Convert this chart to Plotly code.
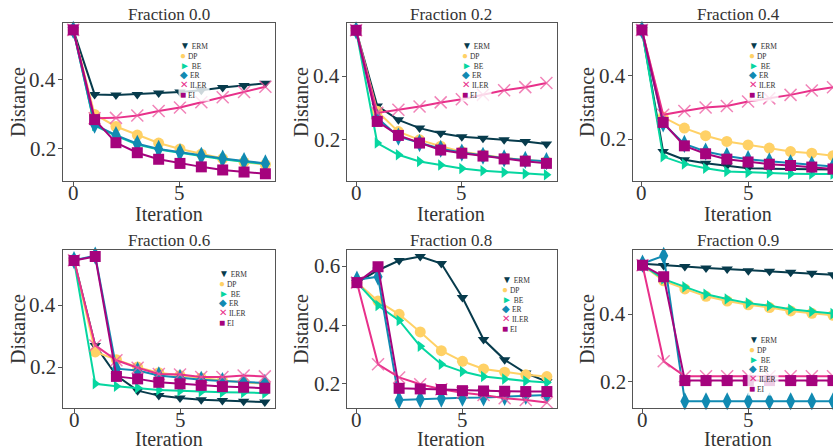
import plotly.graph_objects as go

W, H = 833, 448
FONT = "Liberation Serif"

iterations = list(range(10))
fractions = ["0.0", "0.2", "0.4", "0.6", "0.8", "0.9"]
methods = ["ERM", "DP", "BE", "ER", "ILER", "EI"]
x_ticks = [0, 5]

# values per fraction (rows: 0.0, 0.2, 0.4, 0.6, 0.8, 0.9)
ERM = [
    [0.545, 0.358, 0.356, 0.358, 0.362, 0.365, 0.370, 0.378, 0.384, 0.390],
    [0.545, 0.307, 0.263, 0.237, 0.221, 0.210, 0.205, 0.200, 0.195, 0.187],
    [0.545, 0.161, 0.135, 0.124, 0.116, 0.108, 0.107, 0.106, 0.105, 0.104],
    [0.545, 0.270, 0.173, 0.124, 0.108, 0.100, 0.095, 0.092, 0.090, 0.087],
    [0.545, 0.587, 0.620, 0.634, 0.610, 0.494, 0.351, 0.282, 0.237, 0.208],
    [0.549, 0.544, 0.541, 0.537, 0.534, 0.529, 0.527, 0.524, 0.521, 0.517],
]
DP = [
    [0.545, 0.300, 0.265, 0.240, 0.217, 0.200, 0.185, 0.172, 0.162, 0.155],
    [0.545, 0.290, 0.226, 0.200, 0.180, 0.163, 0.153, 0.143, 0.137, 0.132],
    [0.545, 0.270, 0.235, 0.211, 0.193, 0.182, 0.172, 0.161, 0.156, 0.148],
    [0.545, 0.249, 0.224, 0.200, 0.182, 0.173, 0.165, 0.157, 0.151, 0.146],
    [0.545, 0.482, 0.437, 0.377, 0.313, 0.277, 0.251, 0.240, 0.231, 0.225],
    [0.545, 0.499, 0.475, 0.453, 0.439, 0.428, 0.420, 0.410, 0.403, 0.397],
]
BE = [
    [0.545, 0.268, 0.238, 0.213, 0.198, 0.188, 0.178, 0.170, 0.163, 0.156],
    [0.545, 0.190, 0.153, 0.132, 0.121, 0.110, 0.103, 0.098, 0.093, 0.090],
    [0.545, 0.145, 0.122, 0.108, 0.098, 0.095, 0.093, 0.091, 0.090, 0.090],
    [0.545, 0.146, 0.138, 0.133, 0.126, 0.124, 0.121, 0.119, 0.118, 0.116],
    [0.545, 0.467, 0.416, 0.328, 0.267, 0.242, 0.225, 0.217, 0.210, 0.205],
    [0.545, 0.504, 0.481, 0.459, 0.445, 0.433, 0.425, 0.415, 0.408, 0.402],
]
ER = [
    [0.545, 0.270, 0.240, 0.215, 0.200, 0.190, 0.180, 0.172, 0.165, 0.158],
    [0.545, 0.270, 0.210, 0.190, 0.172, 0.160, 0.150, 0.142, 0.137, 0.133],
    [0.545, 0.250, 0.185, 0.161, 0.147, 0.137, 0.130, 0.124, 0.119, 0.114],
    [0.545, 0.560, 0.195, 0.189, 0.173, 0.165, 0.159, 0.155, 0.151, 0.149],
    [0.555, 0.565, 0.145, 0.148, 0.150, 0.153, 0.154, 0.156, 0.159, 0.162],
    [0.550, 0.573, 0.143, 0.143, 0.143, 0.143, 0.143, 0.143, 0.143, 0.143],
]
ILER = [
    [0.545, 0.289, 0.290, 0.297, 0.310, 0.320, 0.335, 0.350, 0.365, 0.380],
    [0.545, 0.285, 0.295, 0.305, 0.318, 0.328, 0.342, 0.356, 0.366, 0.379],
    [0.545, 0.277, 0.289, 0.300, 0.305, 0.319, 0.329, 0.340, 0.354, 0.364],
    [0.545, 0.270, 0.222, 0.198, 0.178, 0.176, 0.168, 0.168, 0.173, 0.170],
    [0.545, 0.267, 0.222, 0.199, 0.182, 0.170, 0.162, 0.151, 0.145, 0.137],
    [0.545, 0.261, 0.217, 0.217, 0.217, 0.217, 0.217, 0.217, 0.217, 0.217],
]
EI = [
    [0.545, 0.285, 0.218, 0.189, 0.170, 0.158, 0.148, 0.139, 0.133, 0.128],
    [0.545, 0.258, 0.214, 0.190, 0.168, 0.158, 0.149, 0.140, 0.133, 0.126],
    [0.545, 0.253, 0.179, 0.154, 0.137, 0.128, 0.121, 0.117, 0.112, 0.106],
    [0.544, 0.557, 0.170, 0.162, 0.151, 0.146, 0.141, 0.137, 0.135, 0.132],
    [0.545, 0.599, 0.185, 0.183, 0.181, 0.177, 0.176, 0.175, 0.174, 0.174],
    [0.545, 0.511, 0.204, 0.204, 0.204, 0.204, 0.204, 0.204, 0.204, 0.204],
]
values = {"ERM": ERM, "DP": DP, "BE": BE, "ER": ER, "ILER": ILER, "EI": EI}

colors = {"ERM": "#073b4c", "DP": "#ffd166", "BE": "#06d6a0",
          "ER": "#118ab2", "ILER": "#e8308a", "EI": "#a5037d"}
symbols = {"ERM": "triangle-down", "DP": "circle", "BE": "triangle-right",
           "ER": "diamond-tall", "ILER": "x-thin", "EI": "square"}
sizes = {"ERM": 10, "DP": 11, "BE": 10, "ER": 13, "ILER": 12, "EI": 11}
glyphs = {"ERM": "▼", "DP": "●", "BE": "►", "ER": "◆", "ILER": "✕", "EI": "■"}

# layout in pixels
xdom_px = [(63, 275), (347, 557), (633, 833)]
ydom_px = [(23, 181), (250, 408)]
xranges = [[-0.48, 9.45], [-0.43, 9.5], [-0.42, 9.0],
           [-0.52, 9.48], [-0.47, 9.48], [-0.45, 9.0]]
yranges = [[0.107, 0.565], [0.0705, 0.568], [0.068, 0.567],
           [0.068, 0.578], [0.118, 0.656], [0.123, 0.59]]
yticks = [[0.2, 0.4], [0.2, 0.4], [0.2, 0.4], [0.2, 0.4], [0.2, 0.4, 0.6], [0.2, 0.4]]
title_cx = [169, 451, 738]
ylab_cx = [18, 301, 587]
legend_pos = [(178, 38), (460, 38), (747, 38), (217, 266), (500, 272), (747, 332)]
TXT = "#333"

fig = go.Figure()
layout = {}
annotations = []


def txt(text, x, y, xref="paper", yref="paper", size=20, xanchor="center",
        yanchor="middle", angle=0):
    return dict(text=text, x=x, y=y, xref=xref, yref=yref, xanchor=xanchor,
                yanchor=yanchor, textangle=angle, showarrow=False,
                font=dict(family=FONT, size=size, color=TXT))


for k in range(6):
    r, c = divmod(k, 3)
    sfx = "" if k == 0 else str(k + 1)
    xa, ya = "x" + sfx, "y" + sfx
    for m in methods:
        fig.add_trace(go.Scatter(
            x=iterations, y=values[m][k], xaxis=xa, yaxis=ya, mode="lines+markers",
            line=dict(color=colors[m], width=2),
            marker=dict(symbol=symbols[m], size=sizes[m], color=colors[m],
                        line=dict(color=colors[m] if m != "ILER" else "rgba(236,90,160,0.75)",
                                  width=1.5 if m == "ILER" else 0)),
            showlegend=False, cliponaxis=False, name=m))
    x0, x1 = xdom_px[c]
    y0, y1 = ydom_px[r]
    last_col = (c == 2)
    layout["xaxis" + sfx] = dict(
        domain=[x0 / W, x1 / W], range=xranges[k], anchor=ya,
        tickvals=x_ticks, showticklabels=False, ticks="outside", ticklen=4,
        tickcolor="#555", showline=True, linecolor="#555", linewidth=1,
        mirror=True, showgrid=False, zeroline=False)
    layout["yaxis" + sfx] = dict(
        domain=[1 - y1 / H, 1 - y0 / H], range=yranges[k], anchor=xa,
        tickvals=yticks[k], showticklabels=False,
        ticks="outside", ticklen=4, tickcolor="#555",
        showline=True, linecolor="#555", linewidth=1,
        mirror=(not last_col), showgrid=False, zeroline=False)
    # tick labels
    for v in x_ticks:
        annotations.append(txt(str(v), v, 1 - (y1 + 12) / H, xref=xa, size=21))
    for v in yticks[k]:
        annotations.append(txt(f"{v:.1f}", (x0 - 5) / W, v, yref=ya, size=21,
                               xanchor="right"))
    # subplot title
    ty = 14 if r == 0 else 240
    annotations.append(txt(f"Fraction {fractions[k]}", title_cx[c] / W, 1 - ty / H, size=17))
    # axis titles
    iy = 214 if r == 0 else 439
    annotations.append(txt("Iteration", title_cx[c] / W, 1 - iy / H, size=20))
    dy = 102 if r == 0 else 329
    annotations.append(txt("Distance", ylab_cx[c] / W, 1 - dy / H, size=20, angle=-90))
    # legend
    lx, ly = legend_pos[k]
    lines = [f'<span style="color:{colors[m]};font-size:10px">{glyphs[m]}</span> {m}'
             for m in methods]
    annotations.append(dict(
        text="<br>".join(lines), x=lx / W, y=1 - ly / H, align="left",
        xref="paper", yref="paper", xanchor="left", yanchor="top",
        showarrow=False, bgcolor="rgba(255,255,255,0.8)", borderpad=1,
        font=dict(family=FONT, size=7.5, color="#333")))

fig.update_layout(**layout)
fig.update_layout(
    width=W, height=H, margin=dict(l=0, r=0, t=0, b=0),
    paper_bgcolor="white", plot_bgcolor="white",
    annotations=annotations, showlegend=False)

fig.write_html("out.html")
